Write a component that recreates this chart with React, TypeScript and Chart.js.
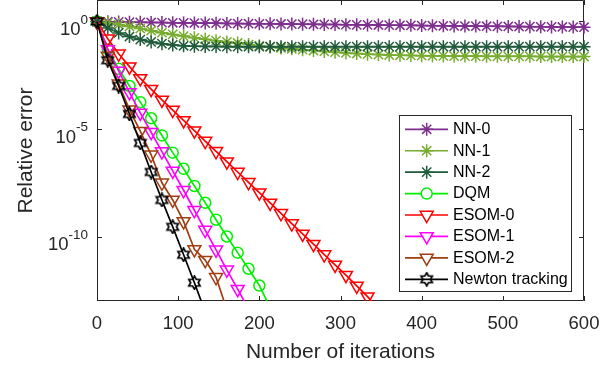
import React, { useEffect, useRef } from 'react';
import { Chart, registerables } from 'chart.js';

Chart.register(...registerables);

// ---------- data (values stored as log10 of the relative error) ----------
const iterations = [
  0, 13.3, 26.7, 40, 53.3, 66.7, 80, 93.3, 106.7, 120, 133.3, 146.7, 160, 173.3, 186.7, 200,
  213.3, 226.7, 240, 253.3, 266.7, 280, 293.3, 306.7, 320, 333.3, 346.7, 360, 373.3, 386.7, 400,
  413.3, 426.7, 440, 453.3, 466.7, 480, 493.3, 506.7, 520, 533.3, 546.7, 560, 573.3, 586.7, 600,
];

const nn0Log = [
  0, -0.01, -0.02, -0.03, -0.04, -0.045, -0.05, -0.06, -0.065, -0.07, -0.075, -0.08, -0.09, -0.095,
  -0.1, -0.105, -0.11, -0.115, -0.12, -0.125, -0.13, -0.135, -0.14, -0.15, -0.155, -0.16, -0.165,
  -0.17, -0.175, -0.18, -0.19, -0.195, -0.2, -0.205, -0.21, -0.215, -0.22, -0.225, -0.23, -0.235,
  -0.24, -0.245, -0.25, -0.255, -0.26, -0.265,
];

const nn1Log = [
  0, -0.06, -0.14, -0.23, -0.33, -0.43, -0.52, -0.6, -0.68, -0.76, -0.83, -0.89, -0.95, -1.0,
  -1.07, -1.13, -1.18, -1.23, -1.27, -1.31, -1.35, -1.39, -1.43, -1.46, -1.49, -1.52, -1.54, -1.56,
  -1.57, -1.58, -1.59, -1.6, -1.6, -1.61, -1.61, -1.61, -1.62, -1.62, -1.62, -1.62, -1.62, -1.63,
  -1.63, -1.63, -1.63, -1.63,
];

const nn2Log = [
  0, -0.3, -0.53, -0.7, -0.84, -0.95, -1.03, -1.09, -1.13, -1.15, -1.16, -1.16, -1.17, -1.17,
  -1.17, -1.17, -1.17, -1.17, -1.17, -1.17, -1.17, -1.17, -1.17, -1.17, -1.17, -1.17, -1.17, -1.17,
  -1.17, -1.17, -1.17, -1.17, -1.17, -1.17, -1.17, -1.17, -1.17, -1.17, -1.17, -1.17, -1.17, -1.17,
  -1.17, -1.17, -1.17, -1.17,
];

const dqmLog = [
  0, -1.3, -2.2, -3.0, -3.75, -4.5, -5.3, -6.1, -6.85, -7.65, -8.43, -9.22, -10.0, -10.75, -11.5,
  -12.28, -13.3,
];

const esom0Log = [
  0, -0.8, -1.5, -2.1, -2.65, -3.15, -3.65, -4.12, -4.6, -5.08, -5.56, -6.04, -6.52, -7.0, -7.48,
  -7.96, -8.44, -8.92, -9.4, -9.88, -10.36, -10.84, -11.32, -11.8, -12.3, -12.8, -13.35,
];

const esom1Log = [
  0, -1.3, -2.3, -3.3, -4.25, -5.15, -6.05, -6.95, -7.85, -8.78, -9.7, -10.62, -11.55, -12.45,
  -13.37,
];

const esom2Log = [0, -1.6, -2.9, -4.1, -5.1, -6.2, -7.5, -8.3, -9.3, -10.6, -11.1, -11.9, -13.4];

const newtonLog = [0, -1.8, -3.0, -4.3, -5.65, -7.0, -8.3, -9.55, -10.85, -12.15, -13.5];

const seriesNames = ['NN-0', 'NN-1', 'NN-2', 'DQM', 'ESOM-0', 'ESOM-1', 'ESOM-2', 'Newton tracking'];
const seriesLogs = [nn0Log, nn1Log, nn2Log, dqmLog, esom0Log, esom1Log, esom2Log, newtonLog];
const seriesColors = ['#7E2F8E', '#77AC30', '#1F5A3A', '#00F000', '#FF0000', '#FF00FF', '#A03E12', '#000000'];
const seriesMarkers = ['star', 'star', 'star', 'circle', 'triangle', 'triangle', 'triangle', 'hexagram'];

const xTicks = [0, 100, 200, 300, 400, 500, 600];
const yTickExponents = [0, -5, -10];

const FONT = '"Liberation Sans", Arial, Helvetica, sans-serif';
const TEXT = '#262626';

function makeHexagram(color: string, size = 15, lw = 1.7) {
  const c = document.createElement('canvas');
  c.width = size;
  c.height = size;
  const ctx = c.getContext('2d')!;
  const cx = size / 2;
  const cy = size / 2;
  const R = size / 2 - 1;
  const r = R / Math.sqrt(3);
  ctx.beginPath();
  for (let i = 0; i < 12; i++) {
    const ang = -Math.PI / 2 + (i * Math.PI) / 6;
    const rad = i % 2 === 0 ? R : r;
    const px = cx + Math.cos(ang) * rad;
    const py = cy + Math.sin(ang) * rad;
    if (i === 0) ctx.moveTo(px, py);
    else ctx.lineTo(px, py);
  }
  ctx.closePath();
  ctx.strokeStyle = color;
  ctx.lineWidth = lw;
  ctx.lineJoin = 'miter';
  ctx.stroke();
  return c;
}

function markerProps(kind: string, hex: HTMLCanvasElement) {
  if (kind === 'star') return { pointStyle: 'star', pointRadius: 6.5, pointRotation: 0 };
  if (kind === 'circle') return { pointStyle: 'circle', pointRadius: 5.5, pointRotation: 0 };
  if (kind === 'triangle') return { pointStyle: 'triangle', pointRadius: 7.5, pointRotation: 180 };
  return { pointStyle: hex, pointRadius: 7, pointRotation: 0 };
}

function drawLegendMarker(ctx: CanvasRenderingContext2D, kind: string, x: number, y: number, color: string, hex: HTMLCanvasElement) {
  ctx.save();
  ctx.strokeStyle = color;
  ctx.lineWidth = 1.5;
  ctx.beginPath();
  if (kind === 'star') {
    const r = 6.5;
    const d = r * Math.SQRT1_2;
    ctx.moveTo(x - r, y); ctx.lineTo(x + r, y);
    ctx.moveTo(x, y - r); ctx.lineTo(x, y + r);
    ctx.moveTo(x - d, y - d); ctx.lineTo(x + d, y + d);
    ctx.moveTo(x - d, y + d); ctx.lineTo(x + d, y - d);
    ctx.stroke();
  } else if (kind === 'circle') {
    ctx.fillStyle = '#ffffff';
    ctx.arc(x, y, 5.5, 0, Math.PI * 2);
    ctx.fill();
    ctx.stroke();
  } else if (kind === 'triangle') {
    const r = 7.5;
    ctx.fillStyle = '#ffffff';
    for (let i = 0; i < 3; i++) {
      const ang = Math.PI / 2 + (i * 2 * Math.PI) / 3;
      const px = x + Math.cos(ang) * r;
      const py = y + Math.sin(ang) * r;
      if (i === 0) ctx.moveTo(px, py);
      else ctx.lineTo(px, py);
    }
    ctx.closePath();
    ctx.fill();
    ctx.stroke();
  } else {
    ctx.drawImage(hex, x - hex.width / 2, y - hex.height / 2);
  }
  ctx.restore();
}

export default function App() {
  const ref = useRef<HTMLCanvasElement | null>(null);

  useEffect(() => {
    document.body.style.margin = '0';
    const canvas = ref.current;
    if (!canvas) return;

    const hex = makeHexagram('#000000');

    const datasets = seriesNames.map((name, i) => {
      const logs = seriesLogs[i];
      const mk = markerProps(seriesMarkers[i], hex);
      return {
        label: name,
        data: logs.map((v, j) => ({ x: iterations[j], y: Math.pow(10, v) })),
        borderColor: seriesColors[i],
        backgroundColor: 'rgba(0,0,0,0)',
        pointBorderColor: seriesColors[i],
        pointBackgroundColor: 'rgba(0,0,0,0)',
        pointBorderWidth: 1.5,
        borderWidth: 1.7,
        tension: 0,
        order: seriesNames.length - 1 - i,
        clip: { left: 12, top: 12, right: 12, bottom: 0 } as any,
        ...mk,
      };
    });

    const matlabPlugin = {
      id: 'matlabAxes',
      beforeDatasetsDraw(chart: any) {
        const { ctx, chartArea: a, scales } = chart;
        const xs = scales.x;
        const ys = scales.y;
        ctx.save();
        ctx.strokeStyle = TEXT;
        ctx.lineWidth = 1;
        ctx.beginPath();
        ctx.rect(a.left + 0.5, a.top + 0.5, a.right - a.left - 1, a.bottom - a.top - 1);
        ctx.stroke();
        const tl = 5;
        ctx.beginPath();
        xTicks.forEach((v) => {
          const px = Math.round(xs.getPixelForValue(v)) + 0.5;
          ctx.moveTo(px, a.bottom);
          ctx.lineTo(px, a.bottom - tl);
          ctx.moveTo(px, a.top);
          ctx.lineTo(px, a.top + tl);
        });
        yTickExponents.forEach((e) => {
          const py = Math.round(ys.getPixelForValue(Math.pow(10, e))) + 0.5;
          ctx.moveTo(a.left, py);
          ctx.lineTo(a.left + tl, py);
          ctx.moveTo(a.right, py);
          ctx.lineTo(a.right - tl, py);
        });
        ctx.stroke();
        ctx.restore();
      },
      afterDraw(chart: any) {
        const { ctx, scales } = chart;
        const ys = scales.y;
        ctx.save();
        // y tick labels with superscript exponents
        const right = 88;
        yTickExponents.forEach((e) => {
          const py = ys.getPixelForValue(Math.pow(10, e));
          const expStr = String(e);
          ctx.fillStyle = TEXT;
          ctx.textBaseline = 'alphabetic';
          ctx.font = `13.5px ${FONT}`;
          const ew = ctx.measureText(expStr).width;
          ctx.textAlign = 'left';
          ctx.fillText(expStr, right - ew, py + 2);
          ctx.font = `18.5px ${FONT}`;
          ctx.textAlign = 'right';
          ctx.fillText('10', right - ew, py + 13.5);
        });

        // legend
        const bx = 399.5, by = 115.5, bw = 172, bh = 176;
        ctx.fillStyle = '#ffffff';
        ctx.fillRect(bx, by, bw, bh);
        ctx.strokeStyle = TEXT;
        ctx.lineWidth = 1;
        ctx.strokeRect(bx, by, bw, bh);
        seriesNames.forEach((name, i) => {
          const cy = 129.3 + i * 21.43;
          ctx.save();
          ctx.strokeStyle = seriesColors[i];
          ctx.lineWidth = 1.7;
          ctx.beginPath();
          ctx.moveTo(405, cy);
          ctx.lineTo(448, cy);
          ctx.stroke();
          ctx.restore();
          drawLegendMarker(ctx, seriesMarkers[i], 426.7, cy, seriesColors[i], hex);
          ctx.fillStyle = '#000000';
          ctx.font = `16px ${FONT}`;
          ctx.textAlign = 'left';
          ctx.textBaseline = 'middle';
          ctx.fillText(name, 453, cy + 0.5);
        });
        ctx.restore();
      },
    };

    const chart = new Chart(canvas, {
      type: 'line',
      data: { datasets: datasets as any },
      options: {
        animation: false,
        responsive: false,
        devicePixelRatio: 1,
        layout: { padding: { top: 0, right: 32, left: 0, bottom: 0 }, autoPadding: false },
        plugins: { legend: { display: false }, tooltip: { enabled: false } },
        scales: {
          x: {
            type: 'linear',
            min: 0,
            max: 600,
            afterBuildTicks: (s: any) => {
              s.ticks = xTicks.map((v) => ({ value: v }));
            },
            afterFit: (s: any) => {
              s.height = 71;
            },
            ticks: {
              font: { family: FONT, size: 18.5 },
              color: TEXT,
              padding: 12,
              maxRotation: 0,
              autoSkip: false,
            },
            grid: { display: false, drawTicks: false },
            border: { display: false },
            title: {
              display: true,
              text: 'Number of iterations',
              font: { family: FONT, size: 21 },
              color: TEXT,
              padding: { top: 0, bottom: 7 },
            },
          },
          y: {
            type: 'logarithmic',
            min: 1e-13,
            max: 10,
            afterBuildTicks: (s: any) => {
              s.ticks = yTickExponents.map((e) => ({ value: Math.pow(10, e) }));
            },
            afterFit: (s: any) => {
              s.width = 97;
            },
            ticks: { display: false },
            grid: { display: false, drawTicks: false },
            border: { display: false },
            title: {
              display: true,
              text: 'Relative error',
              font: { family: FONT, size: 21 },
              color: TEXT,
              padding: { top: 14, bottom: 0 },
            },
          },
        },
      },
      plugins: [matlabPlugin],
    });

    return () => {
      chart.destroy();
    };
  }, []);

  return (
    <div style={{ width: 616, height: 372, background: '#ffffff' }}>
      <canvas ref={ref} width={616} height={372} style={{ display: 'block' }} />
    </div>
  );
}
